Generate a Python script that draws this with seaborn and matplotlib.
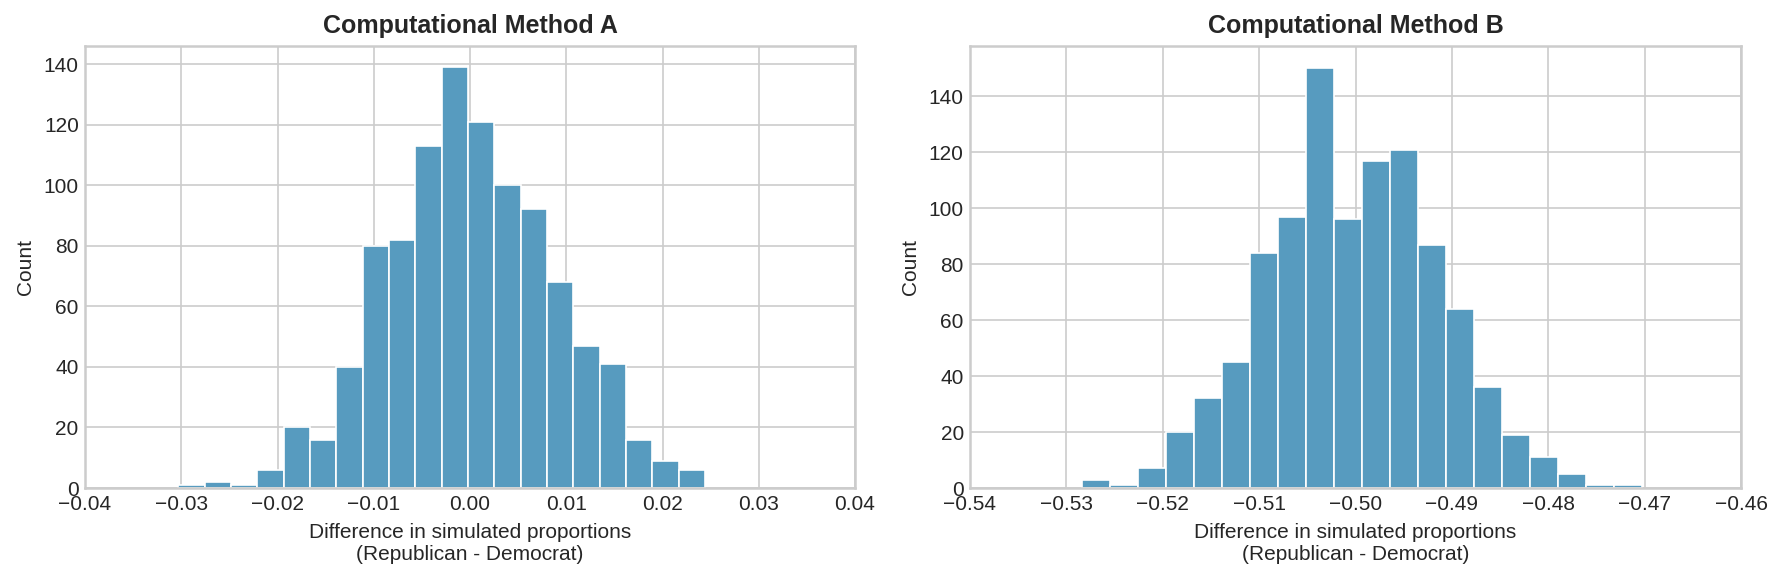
import numpy as np
import pandas as pd
import matplotlib
matplotlib.use("Agg")
import matplotlib.pyplot as plt
import seaborn as sns

# Panel A: bin range and counts
a_edges_range = (-0.0303, 0.02443)
a_counts = [1, 2, 1, 6, 20, 16, 40, 80, 82, 113, 139, 121, 100, 92, 68, 47, 41, 16, 9, 6]
# Panel B: bin range and counts
b_edges_range = (-0.52841, -0.47026)
b_counts = [3, 1, 7, 20, 32, 45, 84, 97, 150, 96, 117, 121, 87, 64, 36, 19, 11, 5, 1, 1]

titles = ["Computational Method A", "Computational Method B"]
xlims = [(-0.04, 0.04), (-0.54, -0.46)]
xlabel = "Difference in simulated proportions\n(Republican - Democrat)"

sns.set_style("whitegrid")
plt.rcParams['font.family'] = ['Liberation Sans', 'DejaVu Sans']
plt.rcParams['axes.edgecolor'] = '#cccccc'
plt.rcParams['grid.color'] = '#cccccc'
plt.rcParams['text.color'] = '#262626'
plt.rcParams['axes.labelcolor'] = '#262626'
plt.rcParams['xtick.color'] = '#262626'
plt.rcParams['ytick.color'] = '#262626'

fig = plt.figure(figsize=(1783/150, 579/150), dpi=150)
axA = fig.add_axes([85/1783, 1-488/579, (855-85)/1783, (488-46)/579])
axB = fig.add_axes([970/1783, 1-488/579, (1741-970)/1783, (488-46)/579])

for ax, rng, counts, title, xl in zip([axA, axB], [a_edges_range, b_edges_range],
                                       [a_counts, b_counts], titles, xlims):
    edges = np.linspace(rng[0], rng[1], len(counts) + 1)
    centers = (edges[:-1] + edges[1:]) / 2
    df = pd.DataFrame({"diff": centers, "n": np.asarray(counts, dtype=float)})
    sns.histplot(data=df, x="diff", weights="n", bins=list(edges), ax=ax,
                 color="#579BBF", alpha=1, edgecolor="white", linewidth=0.8)
    ax.set_xlim(*xl)
    ax.set_title(title, fontsize=12, fontweight="bold")
    ax.set_xlabel(xlabel, fontsize=10)
    ax.set_ylabel("Count", fontsize=10)
    ax.tick_params(labelsize=10, length=0)
    ax.tick_params(axis="x", pad=3.5)
    ax.tick_params(axis="y", pad=3)
    for s in ax.spines.values():
        s.set_visible(True)
        s.set_color('#cccccc')
        s.set_linewidth(1.2)
    ax.set_axisbelow(True)

axA.set_ylim(0, 146)
axA.set_yticks(np.arange(0, 141, 20))
axA.set_xticks(np.arange(-0.04, 0.0401, 0.01))
axB.set_ylim(0, 158)
axB.set_yticks(np.arange(0, 141, 20))
axB.set_xticks(np.arange(-0.54, -0.4599, 0.01))

fig.savefig("out.png", dpi=150)
